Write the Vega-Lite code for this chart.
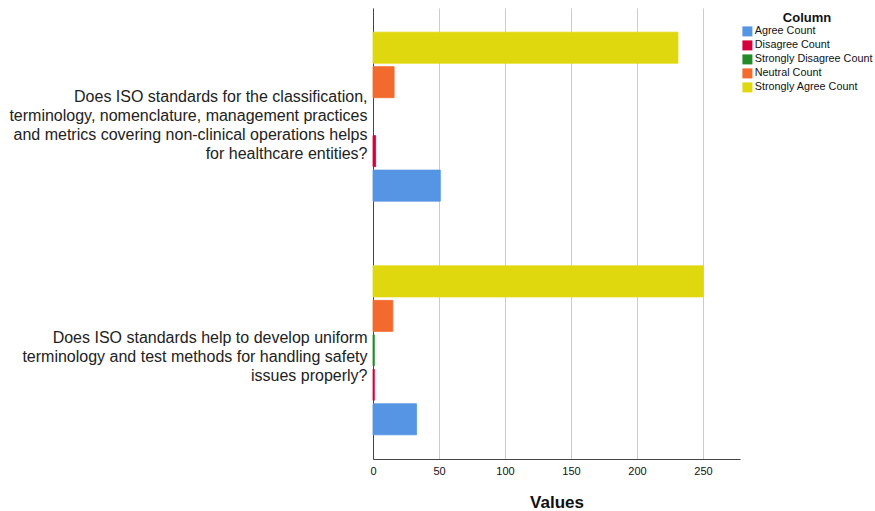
{
  "$schema": "https://vega.github.io/schema/vega-lite/v6.json",
  "autosize": {"type": "none"},
  "width": 367,
  "height": 451,
  "padding": {"left": 373, "top": 8, "right": 135, "bottom": 52},
  "background": "white",
  "data": {
    "values": [
      {"question": "Does ISO standards for the classification,|terminology, nomenclature, management practices|and metrics covering non-clinical operations helps|for healthcare entities?", "column": "Agree Count", "value": 51},
      {"question": "Does ISO standards for the classification,|terminology, nomenclature, management practices|and metrics covering non-clinical operations helps|for healthcare entities?", "column": "Disagree Count", "value": 2},
      {"question": "Does ISO standards for the classification,|terminology, nomenclature, management practices|and metrics covering non-clinical operations helps|for healthcare entities?", "column": "Strongly Disagree Count", "value": 0},
      {"question": "Does ISO standards for the classification,|terminology, nomenclature, management practices|and metrics covering non-clinical operations helps|for healthcare entities?", "column": "Neutral Count", "value": 16},
      {"question": "Does ISO standards for the classification,|terminology, nomenclature, management practices|and metrics covering non-clinical operations helps|for healthcare entities?", "column": "Strongly Agree Count", "value": 231},
      {"question": "Does ISO standards help to develop uniform|terminology and test methods for handling safety|issues properly?", "column": "Agree Count", "value": 33},
      {"question": "Does ISO standards help to develop uniform|terminology and test methods for handling safety|issues properly?", "column": "Disagree Count", "value": 1},
      {"question": "Does ISO standards help to develop uniform|terminology and test methods for handling safety|issues properly?", "column": "Strongly Disagree Count", "value": 1},
      {"question": "Does ISO standards help to develop uniform|terminology and test methods for handling safety|issues properly?", "column": "Neutral Count", "value": 15},
      {"question": "Does ISO standards help to develop uniform|terminology and test methods for handling safety|issues properly?", "column": "Strongly Agree Count", "value": 250}
    ]
  },
  "mark": {"type": "bar"},
  "encoding": {
    "y": {
      "field": "question",
      "type": "nominal",
      "sort": null,
      "scale": {"paddingInner": 0.1, "paddingOuter": 0.015},
      "axis": {
        "title": null,
        "ticks": false,
        "labelExpr": "split(datum.label, '|')",
        "labelLimit": 400,
        "labelFont": "Liberation Sans",
        "labelFontSize": 16,
        "labelColor": "#222222",
        "labelLineHeight": 19,
        "labelPadding": 6,
        "labelOffset": {"condition": {"test": "indexof(datum.value, 'classification') >= 0", "value": -20}, "value": -12},
        "domainColor": "#444444",
        "grid": false
      }
    },
    "yOffset": {
      "field": "column",
      "type": "nominal",
      "scale": {
        "domain": ["Strongly Agree Count", "Neutral Count", "Strongly Disagree Count", "Disagree Count", "Agree Count"],
        "paddingInner": 0.1,
        "paddingOuter": 0.6
      }
    },
    "x": {
      "field": "value",
      "type": "quantitative",
      "scale": {"domain": [0, 278], "nice": false},
      "axis": {
        "title": "Values",
        "titleFont": "Liberation Sans",
        "titleFontSize": 17,
        "titleFontWeight": "bold",
        "titleColor": "#111111",
        "titlePadding": 18,
        "values": [0, 50, 100, 150, 200, 250],
        "ticks": false,
        "labelFlush": false,
        "labelFont": "Liberation Sans",
        "labelFontSize": 11,
        "labelColor": "#111111",
        "labelPadding": 6,
        "domainColor": "#444444",
        "grid": true,
        "gridColor": "#cccccc",
        "gridWidth": 1
      }
    },
    "strokeWidth": {
      "condition": {"test": "datum.value == 0", "value": 0},
      "value": 0.8
    },
    "stroke": {
      "field": "column",
      "type": "nominal",
      "scale": {
        "domain": ["Agree Count", "Disagree Count", "Strongly Disagree Count", "Neutral Count", "Strongly Agree Count"],
        "range": ["#5694e4", "#d5003c", "#248a2a", "#f26a2c", "#e0d80e"]
      },
      "legend": null
    },
    "color": {
      "field": "column",
      "type": "nominal",
      "scale": {
        "domain": ["Agree Count", "Disagree Count", "Strongly Disagree Count", "Neutral Count", "Strongly Agree Count"],
        "range": ["#5694e4", "#d5003c", "#248a2a", "#f26a2c", "#e0d80e"]
      },
      "legend": {
        "title": "Column",
        "orient": "none",
        "legendX": 369,
        "legendY": 4,
        "titleFont": "Liberation Sans",
        "titleFontSize": 13,
        "titleFontWeight": "bold",
        "titleColor": "#111111",
        "titleAnchor": "middle",
        "titlePadding": 1,
        "labelFont": "Liberation Sans",
        "labelFontSize": 10.8,
        "labelColor": "#111111",
        "symbolType": "square",
        "symbolSize": 100,
        "symbolStrokeWidth": 0,
        "rowPadding": 2,
        "labelOffset": 2
      }
    }
  },
  "config": {"view": {"stroke": null}}
}
